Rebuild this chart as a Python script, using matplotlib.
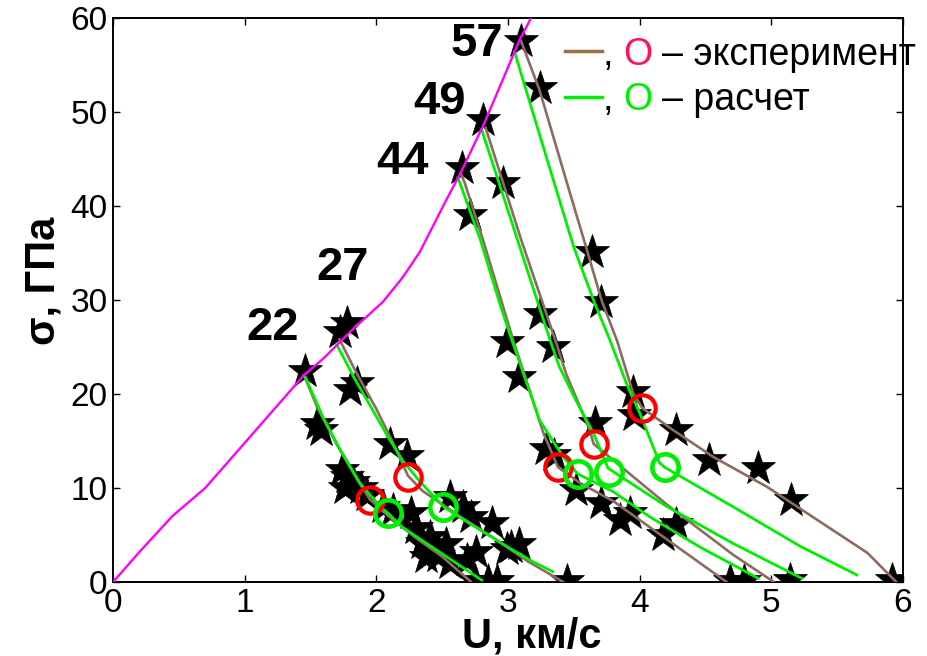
import matplotlib
matplotlib.use("Agg")
import matplotlib.pyplot as plt
from matplotlib.lines import Line2D

plt.rcParams['font.family'] = ['Liberation Sans', 'DejaVu Sans']

# Hugoniot (magenta)
hug_u = [0, 0.2, 0.45, 0.7, 1.0, 1.45, 1.6, 1.8, 2.05, 2.2, 2.33, 2.53, 2.64, 2.82, 3.09, 3.25]
hug_s = [0, 3.2, 7.0, 10.0, 14.8, 22.0, 23.8, 26.6, 29.8, 32.4, 35.1, 40.6, 43.5, 48.8, 57.7, 62.0]

# experiment release curves (brown)
b22_u = [1.45, 1.55, 1.70, 1.85, 1.95, 2.10, 2.30, 2.50, 2.72]
b22_s = [22.0, 18.6, 14.6, 11.0, 8.8, 6.9, 4.7, 2.7, 0.0]
b27_u = [1.72, 1.85, 2.0, 2.12, 2.24, 2.35, 2.6, 2.9, 3.15, 3.42]
b27_s = [25.8, 22.2, 18.4, 15.0, 11.3, 9.7, 7.3, 4.6, 2.2, 0.0]
b44_u = [2.64, 2.67, 2.81, 3.04, 3.27, 3.38, 3.55, 3.80, 4.10, 4.40, 4.66]
b44_s = [43.5, 42.5, 36.4, 25.7, 15.8, 12.2, 10.5, 8.6, 5.6, 2.6, 0.0]
b49_u = [2.83, 2.86, 3.10, 3.36, 3.44, 3.62, 3.65, 3.77, 4.21, 4.71, 5.02]
b49_s = [48.3, 47.0, 36.4, 25.7, 22.2, 16.2, 14.7, 13.3, 8.2, 2.9, 0.0]
b57_u = [3.10, 3.24, 3.47, 3.60, 3.71, 3.83, 3.95, 4.02, 4.25, 4.56, 4.97, 5.35, 5.73, 5.95]
b57_s = [57.5, 52.3, 41.4, 35.3, 30.0, 25.6, 20.1, 18.5, 16.2, 13.3, 10.1, 6.6, 3.1, 0.0]

# calculated release curves (green)
g22_u = [1.46, 1.595, 1.72, 1.876, 2.03, 2.09, 2.2, 2.5, 2.8]
g22_s = [21.8, 17.5, 14.2, 10.5, 8.0, 7.3, 5.8, 3.0, 0.2]
g27_u = [1.70, 1.84, 2.0, 2.09, 2.2, 2.33, 2.45, 2.52, 2.7, 3.0, 3.17, 3.34]
g27_s = [25.2, 21.5, 17.6, 15.4, 12.9, 10.7, 8.9, 7.9, 6.3, 3.7, 2.3, 1.1]
g44_u = [2.62, 2.79, 2.94, 3.03, 3.24, 3.42, 3.53, 3.80, 4.08, 4.46, 4.90]
g44_s = [43.0, 36.4, 29.5, 25.7, 17.2, 13.3, 11.5, 9.6, 6.9, 3.7, 0.4]
g49_u = [2.80, 3.0, 3.22, 3.32, 3.39, 3.52, 3.65, 3.76, 4.0, 4.21, 4.71, 5.23]
g49_s = [48.1, 39.5, 30.0, 25.7, 22.9, 19.2, 15.8, 12.1, 9.9, 8.0, 4.1, 0.4]
g57_u = [3.05, 3.09, 3.30, 3.50, 3.66, 3.775, 3.90, 4.0, 4.15, 4.19, 4.71, 5.22, 5.65]
g57_s = [56.4, 54.5, 44.8, 35.6, 29.6, 25.7, 21.1, 18.0, 12.7, 12.2, 8.0, 3.8, 0.75]

# circles: experiment (red) and calculation (green)
exp_u = [1.95, 2.24, 3.38, 3.65, 4.02]
exp_s = [8.7, 11.2, 12.2, 14.7, 18.5]
calc_u = [2.09, 2.51, 3.53, 3.77, 4.19]
calc_s = [7.3, 8.0, 11.5, 11.7, 12.2]

# measured points (stars)
star_u = [1.46, 1.72, 1.78, 1.55, 1.58, 1.80, 1.85, 2.10, 2.23,
          1.74, 1.78, 1.82, 1.88, 1.76, 1.93, 2.05, 2.13, 2.26, 2.30, 2.41,
          2.35, 2.38, 2.53, 2.56, 2.56, 2.66, 2.72, 2.69, 2.76, 2.88, 2.99,
          3.08, 2.47, 2.75, 2.85, 2.92, 3.45,
          2.648, 2.81, 3.10, 3.24, 2.71, 2.96, 3.64, 3.71, 3.24, 2.99, 3.34,
          3.08, 3.95, 3.96, 4.28, 4.53, 4.90, 5.15, 3.29, 3.35, 3.66, 3.52,
          3.71, 3.85, 3.93, 4.18, 4.28, 3.02, 4.69, 4.79, 5.14, 5.92]
star_s = [22.4, 26.6, 27.5, 16.8, 16.2, 20.4, 21.2, 14.7, 13.4,
          11.9, 11.2, 10.6, 10.0, 10.0, 9.3, 8.0, 7.7, 7.3, 5.7, 4.8,
          4.2, 2.7, 4.0, 2.0, 9.0, 8.0, 6.9, 2.3, 3.2, 6.3, 3.5,
          4.0, 2.8, 0.1, 0.1, 0.1, 0.1,
          44.0, 49.1, 57.5, 52.5, 39.0, 42.4, 35.1, 29.8, 28.5, 25.5, 25.0,
          21.8, 20.2, 17.8, 16.2, 13.0, 12.1, 8.7, 14.1, 13.5, 16.9, 9.8,
          8.4, 6.6, 7.3, 5.0, 6.2, 3.7, 0.1, 0.1, 0.2, 0.2]

# peak stress labels
peak_labels = ["22", "27", "44", "49", "57"]
label_u = [1.215, 1.74, 2.195, 2.476, 2.765]
label_s = [27.0, 33.4, 44.7, 51.0, 57.2]

xticks = [0, 1, 2, 3, 4, 5, 6]
yticks = [0, 10, 20, 30, 40, 50, 60]

BROWN = '#8c6b60'
LEG_BROWN = '#a0703a'
GREEN = '#00ee00'
MAGENTA = '#ff00ff'
RED = '#ff0000'

fig = plt.figure(figsize=(9.27, 6.56), dpi=100)
ax = fig.add_axes([0.122, 0.1128, 0.852, 0.86])

ax.plot(star_u, star_s, linestyle='none', marker='*', markersize=26,
        color='black', markeredgewidth=0.5, zorder=2)

for u, s in [(b22_u, b22_s), (b27_u, b27_s), (b44_u, b44_s), (b49_u, b49_s), (b57_u, b57_s)]:
    ax.plot(u, s, color=BROWN, lw=1.9, zorder=3)
for u, s in [(g22_u, g22_s), (g27_u, g27_s), (g44_u, g44_s), (g49_u, g49_s), (g57_u, g57_s)]:
    ax.plot(u, s, color=GREEN, lw=2.0, zorder=4)
ax.plot(hug_u, hug_s, color=MAGENTA, lw=1.7, zorder=4)

ax.plot(exp_u, exp_s, linestyle='none', marker='o', markersize=19,
        markerfacecolor='none', markeredgecolor=RED, markeredgewidth=3, zorder=5)
ax.plot(calc_u, calc_s, linestyle='none', marker='o', markersize=19,
        markerfacecolor='none', markeredgecolor=GREEN, markeredgewidth=3.3, zorder=5)

for t, u, s in zip(peak_labels, label_u, label_s):
    ax.text(u, s, t, fontsize=34, fontweight='bold', ha='center', va='center', zorder=6)

ax.set_xlim(0, 6)
ax.set_ylim(0, 60)
ax.set_xticks(xticks)
ax.set_yticks(yticks)
ax.tick_params(direction='in', length=5, width=1, top=True, right=True,
               labelsize=24, pad=4)
for sp in ax.spines.values():
    sp.set_linewidth(1.4)

ax.set_xlabel('U, км/с', fontsize=30, fontweight='bold')
ax.xaxis.set_label_coords(0.53, -0.097)
ax.xaxis.label.set_verticalalignment('center')
ax.set_ylabel('σ, ГПа', fontsize=30, fontweight='bold')
ax.yaxis.set_label_coords(-0.088, 0.534)
ax.yaxis.label.set_verticalalignment('center')

# custom legend built from line segments and text
tr = ax.transAxes
ax.add_line(Line2D([0.572, 0.619], [0.9415, 0.9415], transform=tr, color=LEG_BROWN, lw=2.5, clip_on=False))
ax.add_line(Line2D([0.572, 0.619], [0.860, 0.860], transform=tr, color=GREEN, lw=2.5, clip_on=False))
ax.text(0.6203, 0.9167, ',', transform=tr, fontsize=27, va='baseline', ha='left')
ax.text(0.6456, 0.9167, 'O', transform=tr, fontsize=27, va='baseline', ha='left', color='#ff1060')
ax.text(0.6949, 0.9167, '– эксперимент', transform=tr, fontsize=27, va='baseline', ha='left')
ax.text(0.6203, 0.8369, ',', transform=tr, fontsize=27, va='baseline', ha='left')
ax.text(0.6456, 0.8369, 'O', transform=tr, fontsize=27, va='baseline', ha='left', color=GREEN)
ax.text(0.6949, 0.8369, '– расчет', transform=tr, fontsize=27, va='baseline', ha='left')

fig.savefig('out.png', dpi=100)
